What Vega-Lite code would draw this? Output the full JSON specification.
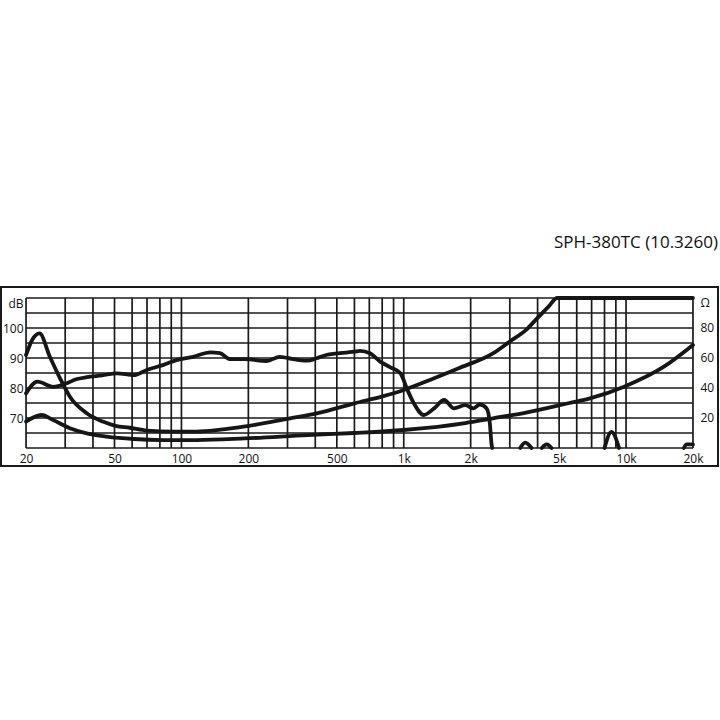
{
  "$schema": "https://vega.github.io/schema/vega-lite/v6.json",
  "width": 717,
  "height": 179,
  "autosize": {"type": "none"},
  "padding": {"left": 1, "top": 287, "right": 2, "bottom": 254},
  "background": "white",
  "title": {
    "text": "SPH-380TC (10.3260)",
    "anchor": "end",
    "frame": "group",
    "orient": "top",
    "baseline": "alphabetic",
    "offset": 22,
    "font": "Open Sans",
    "fontSize": 17,
    "fontWeight": "normal",
    "color": "#111111"
  },
  "config": {
    "view": {"stroke": "#1a1a1a", "strokeWidth": 2},
    "axis": {
      "domain": false,
      "ticks": false,
      "tickSize": 0,
      "grid": false,
      "labelFont": "Open Sans",
      "labelFontSize": 12,
      "labelColor": "#111111"
    }
  },
  "datasets": {
    "gx": [
      {"f": 20}, {"f": 30}, {"f": 40}, {"f": 50}, {"f": 60}, {"f": 70}, {"f": 80}, {"f": 90},
      {"f": 100}, {"f": 200}, {"f": 300}, {"f": 400}, {"f": 500}, {"f": 600}, {"f": 700}, {"f": 800}, {"f": 900},
      {"f": 1000}, {"f": 2000}, {"f": 3000}, {"f": 4000}, {"f": 5000}, {"f": 6000}, {"f": 7000}, {"f": 8000}, {"f": 9000},
      {"f": 10000}, {"f": 20000}
    ],
    "gy": [
      {"v": 60}, {"v": 65}, {"v": 70}, {"v": 75}, {"v": 80}, {"v": 85}, {"v": 90}, {"v": 95}, {"v": 100}, {"v": 105}, {"v": 110}
    ],
    "spl": [
      {"seg": 1, "f": 20, "db": 78.2},
      {"seg": 1, "f": 22.5, "db": 82.1},
      {"seg": 1, "f": 26.5, "db": 80.4},
      {"seg": 1, "f": 30.5, "db": 81.6},
      {"seg": 1, "f": 33.6, "db": 82.9},
      {"seg": 1, "f": 37.5, "db": 83.6},
      {"seg": 1, "f": 44, "db": 84.2},
      {"seg": 1, "f": 51.2, "db": 84.9},
      {"seg": 1, "f": 61, "db": 84.3},
      {"seg": 1, "f": 69.8, "db": 86},
      {"seg": 1, "f": 83, "db": 87.7},
      {"seg": 1, "f": 95, "db": 89.3},
      {"seg": 1, "f": 113, "db": 90.4},
      {"seg": 1, "f": 135, "db": 91.9},
      {"seg": 1, "f": 149, "db": 91.6},
      {"seg": 1, "f": 166, "db": 89.6},
      {"seg": 1, "f": 193, "db": 89.6},
      {"seg": 1, "f": 242, "db": 89},
      {"seg": 1, "f": 277, "db": 90.4},
      {"seg": 1, "f": 300, "db": 90},
      {"seg": 1, "f": 368, "db": 89.1},
      {"seg": 1, "f": 406, "db": 89.9},
      {"seg": 1, "f": 448, "db": 91},
      {"seg": 1, "f": 600, "db": 92.1},
      {"seg": 1, "f": 635, "db": 92.4},
      {"seg": 1, "f": 705, "db": 91.6},
      {"seg": 1, "f": 784, "db": 88.8},
      {"seg": 1, "f": 871, "db": 86.9},
      {"seg": 1, "f": 966, "db": 84.9},
      {"seg": 1, "f": 1040, "db": 79.3},
      {"seg": 1, "f": 1110, "db": 74.9},
      {"seg": 1, "f": 1230, "db": 71},
      {"seg": 1, "f": 1370, "db": 73.2},
      {"seg": 1, "f": 1520, "db": 76},
      {"seg": 1, "f": 1680, "db": 73.2},
      {"seg": 1, "f": 1890, "db": 74.3},
      {"seg": 1, "f": 2060, "db": 73.2},
      {"seg": 1, "f": 2200, "db": 74.5},
      {"seg": 1, "f": 2360, "db": 73.2},
      {"seg": 1, "f": 2440, "db": 68.2},
      {"seg": 1, "f": 2480, "db": 61.6},
      {"seg": 1, "f": 2500, "db": 60},
      {"seg": 2, "f": 3340, "db": 60},
      {"seg": 2, "f": 3520, "db": 61.8},
      {"seg": 2, "f": 3760, "db": 60},
      {"seg": 3, "f": 4180, "db": 60},
      {"seg": 3, "f": 4400, "db": 61.2},
      {"seg": 3, "f": 4620, "db": 60},
      {"seg": 4, "f": 8000, "db": 60},
      {"seg": 4, "f": 8600, "db": 65.4},
      {"seg": 4, "f": 9300, "db": 60},
      {"seg": 5, "f": 18200, "db": 60},
      {"seg": 5, "f": 18700, "db": 61.2},
      {"seg": 5, "f": 20000, "db": 61.2}
    ],
    "imp": [
      {"curve": "A", "f": 20, "ohm": 62},
      {"curve": "A", "f": 21.3, "ohm": 72},
      {"curve": "A", "f": 23, "ohm": 76.4},
      {"curve": "A", "f": 25.6, "ohm": 60.8},
      {"curve": "A", "f": 28.4, "ohm": 46.6},
      {"curve": "A", "f": 31.5, "ohm": 34.2},
      {"curve": "A", "f": 37.5, "ohm": 23.2},
      {"curve": "A", "f": 44.3, "ohm": 17.6},
      {"curve": "A", "f": 50.5, "ohm": 14.8},
      {"curve": "A", "f": 58.5, "ohm": 13.5},
      {"curve": "A", "f": 70, "ohm": 11.6},
      {"curve": "A", "f": 92, "ohm": 10.9},
      {"curve": "A", "f": 117, "ohm": 10.9},
      {"curve": "A", "f": 150, "ohm": 12.2},
      {"curve": "A", "f": 190, "ohm": 14.2},
      {"curve": "A", "f": 308, "ohm": 19.8},
      {"curve": "A", "f": 406, "ohm": 23.1},
      {"curve": "A", "f": 600, "ohm": 29.8},
      {"curve": "A", "f": 810, "ohm": 34.6},
      {"curve": "A", "f": 1000, "ohm": 38.7},
      {"curve": "A", "f": 1370, "ohm": 46.5},
      {"curve": "A", "f": 1790, "ohm": 53.5},
      {"curve": "A", "f": 2520, "ohm": 63.1},
      {"curve": "A", "f": 3000, "ohm": 71},
      {"curve": "A", "f": 3550, "ohm": 78.7},
      {"curve": "A", "f": 3980, "ohm": 86.4},
      {"curve": "A", "f": 4480, "ohm": 94.2},
      {"curve": "A", "f": 4900, "ohm": 100},
      {"curve": "A", "f": 20000, "ohm": 100},
      {"curve": "C", "f": 20, "ohm": 17.6},
      {"curve": "C", "f": 23.5, "ohm": 22},
      {"curve": "C", "f": 26.5, "ohm": 18.6},
      {"curve": "C", "f": 31.5, "ohm": 13.2},
      {"curve": "C", "f": 37.5, "ohm": 9.8},
      {"curve": "C", "f": 46.2, "ohm": 7.6},
      {"curve": "C", "f": 61, "ohm": 6},
      {"curve": "C", "f": 83, "ohm": 5.3},
      {"curve": "C", "f": 117, "ohm": 5.3},
      {"curve": "C", "f": 193, "ohm": 6.4},
      {"curve": "C", "f": 370, "ohm": 8.6},
      {"curve": "C", "f": 600, "ohm": 10},
      {"curve": "C", "f": 1000, "ohm": 12},
      {"curve": "C", "f": 1890, "ohm": 16.6},
      {"curve": "C", "f": 2520, "ohm": 19.8},
      {"curve": "C", "f": 3550, "ohm": 23.6},
      {"curve": "C", "f": 5560, "ohm": 30},
      {"curve": "C", "f": 6880, "ohm": 33.1},
      {"curve": "C", "f": 9800, "ohm": 40.9},
      {"curve": "C", "f": 14800, "ohm": 54.2},
      {"curve": "C", "f": 20000, "ohm": 68.7}
    ]
  },
  "layer": [
    {
      "layer": [
        {
          "data": {"name": "gy"},
          "mark": {"type": "rule", "color": "#1a1a1a", "strokeWidth": 1.7},
          "encoding": {
            "y": {"field": "v", "type": "quantitative", "scale": {"domain": [54, 113.667], "nice": false, "zero": false},
                  "axis": {"orient": "left", "title": null, "offset": -25, "labelPadding": 3, "values": [70, 80, 90, 100, 110],
                           "labelExpr": "datum.value == 110 ? 'dB' : datum.label",
                           "labelOffset": {"condition": {"test": "datum.value == 110", "value": 5}, "value": 0}}},
            "x": {"datum": 20, "type": "quantitative", "scale": {"type": "log", "domain": [15.43, 25919], "nice": false},
                  "axis": {"title": null, "offset": -8, "labelPadding": 0, "labelBaseline": "middle",
                           "values": [20, 50, 100, 200, 500, 1000, 2000, 5000, 10000, 20000],
                           "labelExpr": "datum.value >= 1000 ? (datum.value / 1000) + 'k' : '' + datum.value"}},
            "x2": {"datum": 20000}
          }
        },
        {
          "data": {"name": "gx"},
          "mark": {"type": "rule", "color": "#1a1a1a", "strokeWidth": 1.7},
          "encoding": {
            "x": {"field": "f", "type": "quantitative", "scale": {"type": "log", "domain": [15.43, 25919], "nice": false},
                  "axis": {"title": null, "offset": -8, "labelPadding": 0, "labelBaseline": "middle",
                           "values": [20, 50, 100, 200, 500, 1000, 2000, 5000, 10000, 20000],
                           "labelExpr": "datum.value >= 1000 ? (datum.value / 1000) + 'k' : '' + datum.value"}},
            "y": {"datum": 60, "type": "quantitative", "scale": {"domain": [54, 113.667], "nice": false, "zero": false},
                  "axis": {"orient": "left", "title": null, "offset": -25, "labelPadding": 3, "values": [70, 80, 90, 100, 110],
                           "labelExpr": "datum.value == 110 ? 'dB' : datum.label",
                           "labelOffset": {"condition": {"test": "datum.value == 110", "value": 5}, "value": 0}}},
            "y2": {"datum": 110}
          }
        },
        {
          "data": {"name": "spl"},
          "mark": {"type": "line", "color": "#161616", "strokeWidth": 3.8, "interpolate": "monotone", "strokeJoin": "round", "strokeCap": "round"},
          "encoding": {
            "x": {"field": "f", "type": "quantitative", "scale": {"type": "log", "domain": [15.43, 25919], "nice": false},
                  "axis": {"title": null, "offset": -8, "labelPadding": 0, "labelBaseline": "middle",
                           "values": [20, 50, 100, 200, 500, 1000, 2000, 5000, 10000, 20000],
                           "labelExpr": "datum.value >= 1000 ? (datum.value / 1000) + 'k' : '' + datum.value"}},
            "y": {"field": "db", "type": "quantitative", "scale": {"domain": [54, 113.667], "nice": false, "zero": false},
                  "axis": {"orient": "left", "title": null, "offset": -25, "labelPadding": 3, "values": [70, 80, 90, 100, 110],
                           "labelExpr": "datum.value == 110 ? 'dB' : datum.label",
                           "labelOffset": {"condition": {"test": "datum.value == 110", "value": 5}, "value": 0}}},
            "detail": {"field": "seg", "type": "nominal"}
          }
        }
      ]
    },
    {
      "data": {"name": "imp"},
      "mark": {"type": "line", "color": "#161616", "strokeWidth": 3.8, "interpolate": "monotone", "strokeJoin": "round", "strokeCap": "round"},
      "encoding": {
        "x": {"field": "f", "type": "quantitative", "scale": {"type": "log", "domain": [15.43, 25919], "nice": false},
              "axis": {"title": null, "offset": -8, "labelPadding": 0, "labelBaseline": "middle",
                       "values": [20, 50, 100, 200, 500, 1000, 2000, 5000, 10000, 20000],
                       "labelExpr": "datum.value >= 1000 ? (datum.value / 1000) + 'k' : '' + datum.value"}},
        "y": {"field": "ohm", "type": "quantitative", "scale": {"domain": [-12, 107.333], "nice": false, "zero": false},
              "axis": {"orient": "right", "title": null, "offset": -25, "labelPadding": 7, "labelAlign": "left", "values": [20, 40, 60, 80, 100],
                       "labelExpr": "datum.value == 100 ? 'Ω' : datum.label",
                       "labelOffset": {"condition": {"test": "datum.value == 100", "value": 5}, "value": 0}}},
        "detail": {"field": "curve", "type": "nominal"}
      }
    }
  ],
  "resolve": {"scale": {"y": "independent"}, "axis": {"y": "independent"}}
}
